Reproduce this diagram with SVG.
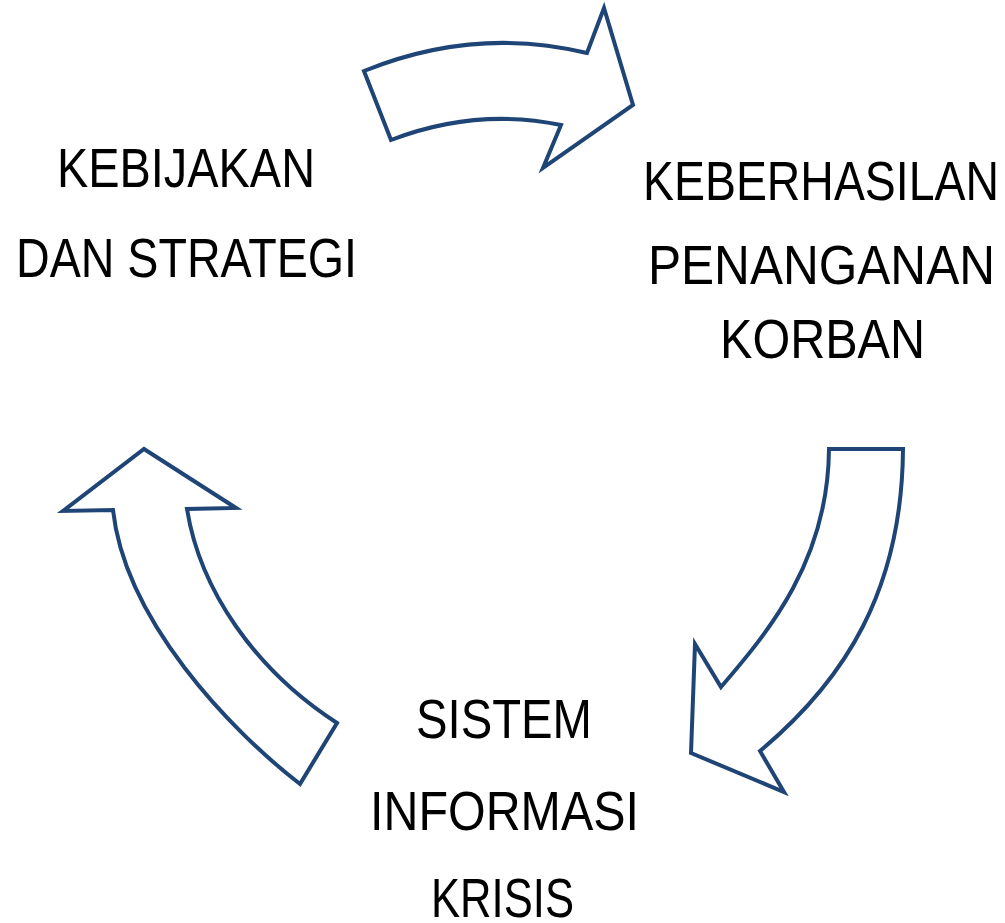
<svg xmlns="http://www.w3.org/2000/svg" width="1005" height="923" viewBox="0 0 1005 923">
<style>
.arrow{fill:#ffffff;stroke:#1F4476;stroke-width:4;stroke-linejoin:miter}
.lbl{font-family:"Liberation Sans",Arial,sans-serif;font-size:55px;fill:#000000}
</style>
<rect width="1005" height="923" fill="#ffffff"/>
<g id="connectors">
<path class="arrow" d="M364,71 Q475.5,26 587,53 L604,8 L633,105 L543,168 L561,125 Q476,107.5 391,140 Z"/>
<path class="arrow" d="M829,449 L903,449 C902,590 845,680 760,751 L784,792 L691,753 L695,644 L721,687 C770,630 828,560 829,449 Z"/>
<path class="arrow" d="M144,449 L236,508 L187,509 C200,590 255,670 337,723 L300,784 C230,730 125,620 113,510 L63,511 Z"/>
</g>
<g id="node-kebijakan">
<text class="lbl" x="57" y="187" textLength="258" lengthAdjust="spacingAndGlyphs">KEBIJAKAN</text>
<text class="lbl" x="16" y="277" textLength="341" lengthAdjust="spacingAndGlyphs">DAN STRATEGI</text>
</g>
<g id="node-keberhasilan">
<text class="lbl" x="643" y="200" textLength="356" lengthAdjust="spacingAndGlyphs">KEBERHASILAN</text>
<text class="lbl" x="648" y="284" textLength="347" lengthAdjust="spacingAndGlyphs">PENANGANAN</text>
<text class="lbl" x="720" y="358" textLength="205" lengthAdjust="spacingAndGlyphs">KORBAN</text>
</g>
<g id="node-sistem">
<text class="lbl" x="416" y="738" textLength="176" lengthAdjust="spacingAndGlyphs">SISTEM</text>
<text class="lbl" x="370" y="830" textLength="269" lengthAdjust="spacingAndGlyphs">INFORMASI</text>
<text class="lbl" x="431" y="917" textLength="143" lengthAdjust="spacingAndGlyphs">KRISIS</text>
</g>
</svg>
